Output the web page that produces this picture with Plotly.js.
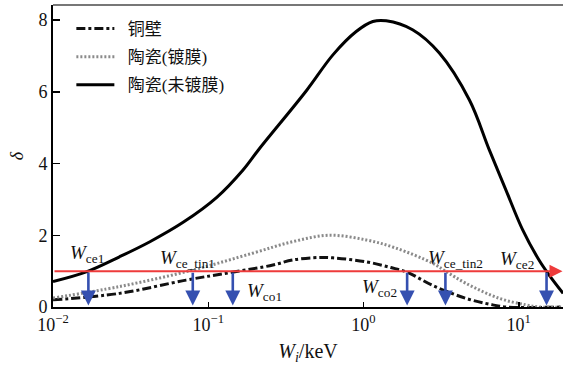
<!DOCTYPE html>
<html><head><meta charset="utf-8">
<script src="https://cdn.plot.ly/plotly-3.0.1.min.js"></script>
<style>html,body{margin:0;padding:0;background:#fff}#chart{width:564px;height:372px}</style>
</head><body><div id="chart"></div>
<script>
// Copper wall (dash-dot)
const copperX = [0.01, 0.0268, 0.072, 0.142, 0.261, 0.349, 0.52, 0.635, 1.04, 1.5, 1.91, 2.79, 4.57, 6.79, 8.28, 19.3];
const copperY = [0.20, 0.38, 0.75, 0.97, 1.17, 1.31, 1.38, 1.37, 1.26, 1.10, 0.97, 0.60, 0.24, 0.06, 0.0, 0.0];
// Ceramic, coated (dotted)
const coatedX = [0.01, 0.0268, 0.0795, 0.193, 0.349, 0.6, 1.04, 1.6, 2.79, 3.37, 4.57, 7.5, 11.1, 13.6, 19.3];
const coatedY = [0.25, 0.57, 1.03, 1.50, 1.82, 2.00, 1.87, 1.65, 1.22, 1.00, 0.66, 0.24, 0.06, 0.0, 0.0];
// Ceramic, uncoated (solid)
const uncoatedX = [0.01, 0.01637, 0.0268, 0.0421, 0.0689, 0.113, 0.1675, 0.214, 0.4284, 0.6353, 0.8974, 1.148, 1.40, 2.07, 3.08, 4.81, 6.46, 8.27, 10.6, 13.5, 15.7, 19.3];
const uncoatedY = [0.71, 0.98, 1.40, 1.82, 2.36, 3.05, 3.82, 4.42, 6.03, 7.03, 7.68, 7.96, 7.98, 7.73, 7.08, 5.77, 4.38, 3.26, 2.15, 1.31, 0.89, 0.38];

const seriesNames = ['铜壁', '陶瓷(镀膜)', '陶瓷(未镀膜)'];

// delta = 1 threshold and crossing energies (keV)
const thresholdY = 1;
const crossX = [0.0169, 0.0795, 0.1439, 1.91, 3.37, 15.1];
const labelText = ['<i>W</i><sub>ce1</sub>', '<i>W</i><sub>ce_tin1</sub>', '<i>W</i><sub>co1</sub>',
                   '<i>W</i><sub>co2</sub>', '<i>W</i><sub>ce_tin2</sub>', '<i>W</i><sub>ce2</sub>'];
const labelX = [0.01655, 0.0738, 0.2307, 1.268, 3.91, 9.77];
const labelY = [1.48, 1.34, 0.42, 0.53, 1.34, 1.31];

const xTickVals = [0.01, 0.1, 1, 10];
const xTickText = ['10<sup>−2</sup>', '10<sup>−1</sup>', '10<sup>0</sup>', '10<sup>1</sup>'];
const yTickVals = [0, 2, 4, 6, 8];

const serif = 'Liberation Serif, Noto Sans CJK SC, serif';
const blue = '#3550b0', red = '#ee3b3b';
const xMin = -2, xMax = 1.285;

const traces = [
  {x: copperX, y: copperY, name: '\u2002' + seriesNames[0], legendgroup: 'a', mode: 'lines',
   line: {color: '#111', width: 3, dash: '9px,3px,3px,3px', shape: 'spline', smoothing: 1}},
  {x: coatedX, y: coatedY, name: '\u2002' + seriesNames[1], legendgroup: 'b', mode: 'lines',
   line: {color: '#8a8a8a', width: 3, dash: '2px,2px', shape: 'spline', smoothing: 1}},
  {x: uncoatedX, y: uncoatedY, name: '\u2002' + seriesNames[2], legendgroup: 'c', mode: 'lines',
   line: {color: '#000', width: 3, shape: 'spline', smoothing: 1}}
];

const annotations = [];
// red threshold arrow
annotations.push({x: xMax - 0.003, y: thresholdY, ax: xMin, ay: thresholdY, xref: 'x', yref: 'y', axref: 'x', ayref: 'y',
  showarrow: true, arrowhead: 2, arrowsize: 1.3, arrowwidth: 2, arrowcolor: red, text: ''});
// blue arrows
crossX.forEach(v => {
  annotations.push({x: Math.log10(v), y: 0.04, ax: Math.log10(v), ay: thresholdY, xref: 'x', yref: 'y', axref: 'x', ayref: 'y',
    showarrow: true, arrowhead: 2, arrowsize: 1.15, arrowwidth: 2.6, arrowcolor: blue, text: ''});
});
labelText.forEach((t, i) => {
  annotations.push({x: Math.log10(labelX[i]), y: labelY[i], xref: 'x', yref: 'y', text: t, showarrow: false,
    font: {family: serif, size: 19, color: '#111'}, xanchor: 'center', yanchor: 'middle'});
});

const layout = {
  width: 564, height: 372,
  margin: {l: 53, r: 1, t: 5, b: 65},
  paper_bgcolor: '#fff', plot_bgcolor: '#fff',
  font: {family: serif, size: 18, color: '#111'},
  showlegend: true,
  legend: {x: 0.036, y: 0.98, xanchor: 'left', yanchor: 'top', bgcolor: 'rgba(0,0,0,0)', traceorder: 'grouped',
           font: {family: serif, size: 17, color: '#111'}, itemwidth: 38, tracegroupgap: 3},
  xaxis: {type: 'log', range: [xMin, xMax], tickvals: xTickVals, ticktext: xTickText,
          showline: true, linecolor: '#000', linewidth: 2, ticks: 'inside', ticklen: 5, tickwidth: 1.5, tickcolor: '#000',
          showgrid: false, zeroline: false, tickfont: {family: serif, size: 18},
          title: {text: '<i>W</i><sub><i>i</i></sub>/keV', font: {family: serif, size: 20}, standoff: 10}},
  yaxis: {range: [0, 8.42], tickvals: yTickVals,
          showline: true, linecolor: '#000', linewidth: 2, ticks: 'inside', ticklen: 7, tickwidth: 1.5, tickcolor: '#000',
          showgrid: false, zeroline: false, tickfont: {family: serif, size: 18},
          title: {text: '<i>δ</i>', font: {family: serif, size: 18}, standoff: 10}},
  shapes: [{type: 'line', xref: 'paper', yref: 'paper', x0: 0, x1: 1, y0: 1, y1: 1, line: {color: '#777', width: 2}}],
  annotations: annotations
};

Plotly.newPlot('chart', traces, layout, {displayModeBar: false, staticPlot: true});
</script>
</body></html>
